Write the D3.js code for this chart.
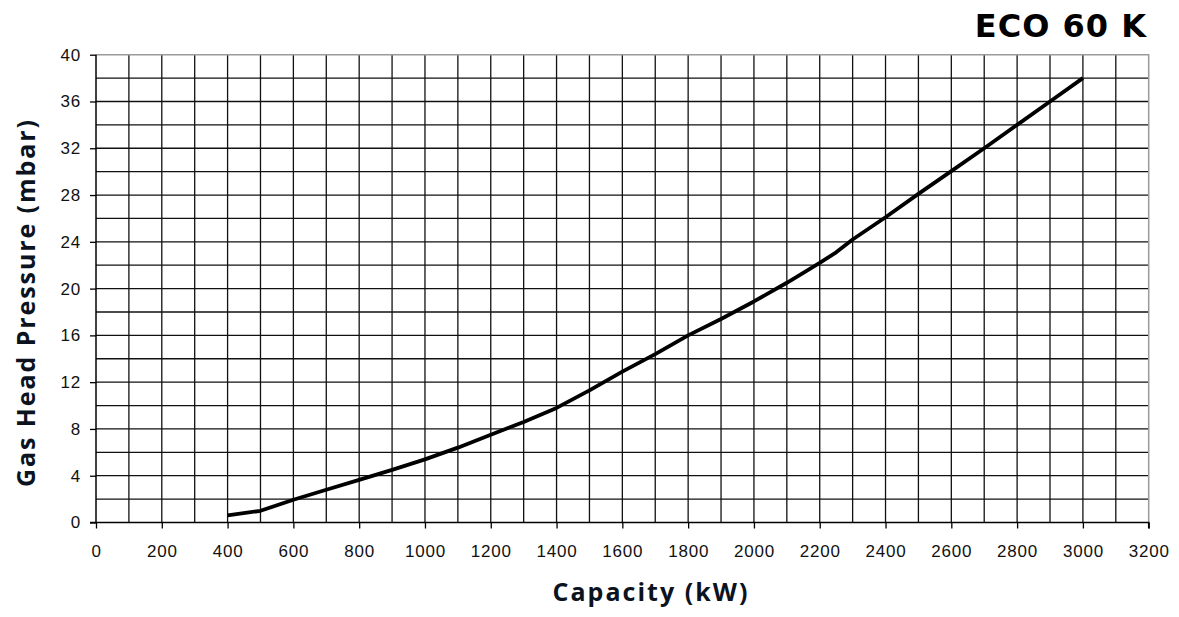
<!DOCTYPE html>
<html><head><meta charset="utf-8">
<script src="https://d3js.org/d3.v7.min.js"></script>
<style>body{margin:0;background:#fff}svg{display:block}</style>
</head><body>
<svg id="c" width="1179" height="617"></svg>
<script>
const capacity = [400,500,600,700,800,900,1000,1100,1200,1300,1400,1500,1600,1700,1800,1900,2000,2100,2200,2250,2300,2400,2500,2600,2700,2800,2900,3000];
const pressure = [0.6,1.0,1.95,2.8,3.65,4.5,5.4,6.4,7.5,8.6,9.8,11.3,12.9,14.4,16.0,17.4,18.9,20.5,22.2,23.1,24.2,26.1,28.1,30.05,32.0,34.0,36.0,38.0];
const xTicks = d3.range(0,3201,200);
const yTicks = d3.range(0,41,4);
const xGrid = d3.range(0,3201,100);
const yGrid = d3.range(0,41,2);
const title = "ECO 60 K";
const xTitle = "Capacity (kW)";
const yTitle = "Gas Head Pressure (mbar)";

const svg = d3.select("#c");
const L=96, R=1148.7, T=54.7, B=522.5;
const x = d3.scaleLinear().domain([0,3200]).range([L,R]);
const y = d3.scaleLinear().domain([0,40]).range([B,T]);

// grid
svg.append("g").selectAll("line").data(xGrid.slice(1,-1)).join("line")
  .attr("x1",d=>x(d)).attr("x2",d=>x(d)).attr("y1",T).attr("y2",B)
  .attr("stroke","#111").attr("stroke-width",1.3);
svg.append("g").selectAll("line").data(yGrid.slice(1,-1)).join("line")
  .attr("y1",d=>y(d)).attr("y2",d=>y(d)).attr("x1",L).attr("x2",R)
  .attr("stroke","#111").attr("stroke-width",1.3);
// top/right border gray
svg.append("path").attr("d",`M${L},${T}H${R}V${B}`).attr("fill","none")
  .attr("stroke","#9a9a9a").attr("stroke-width",1.5);

// axes
const xa = svg.append("g").attr("transform",`translate(0,${B})`)
  .call(d3.axisBottom(x).tickValues(xTicks).tickSize(6).tickPadding(16).tickFormat(d3.format("d")));
const ya = svg.append("g").attr("transform",`translate(${L},0)`)
  .call(d3.axisLeft(y).tickValues(yTicks).tickSize(6).tickPadding(9).tickFormat(d3.format("d")));
[xa,ya].forEach(a=>{
  a.select(".domain").attr("stroke","#000").attr("stroke-width",1.5);
  a.selectAll(".tick line").attr("stroke","#000").attr("stroke-width",1.3);
  a.selectAll("text").attr("font-family","Liberation Sans, Arial, sans-serif")
   .attr("font-size",17).attr("fill","#111").attr("letter-spacing",0.8);
});
ya.select(".domain").attr("d",`M0,${T}V${B}`);
xa.select(".domain").attr("d",`M${L-6},0H${R}V6`);

// curve
svg.append("path").datum(d3.zip(capacity,pressure))
  .attr("d",d3.line().x(d=>x(d[0])).y(d=>y(d[1])))
  .attr("fill","none").attr("stroke","#000").attr("stroke-width",3.8)
  .attr("stroke-linejoin","round");

// titles
svg.append("text").text(title).attr("x",1147).attr("y",37).attr("text-anchor","end")
  .attr("font-family","DejaVu Sans, sans-serif").attr("font-weight","bold")
  .attr("font-size",32).attr("fill","#000").attr("letter-spacing",1);
svg.append("text").text(xTitle).attr("x",650).attr("y",601).attr("text-anchor","middle")
  .attr("font-family","Open Sans, Lato, sans-serif").attr("font-weight","bold")
  .attr("font-size",25).attr("fill","#0b1320")
  .attr("textLength",195).attr("lengthAdjust","spacing");
svg.append("text").text(yTitle).attr("transform","translate(35,303.5) rotate(-90)")
  .attr("text-anchor","middle")
  .attr("font-family","Open Sans, Lato, sans-serif").attr("font-weight","bold")
  .attr("font-size",25).attr("fill","#0b1320")
  .attr("textLength",367).attr("lengthAdjust","spacing");
</script>
</body></html>
